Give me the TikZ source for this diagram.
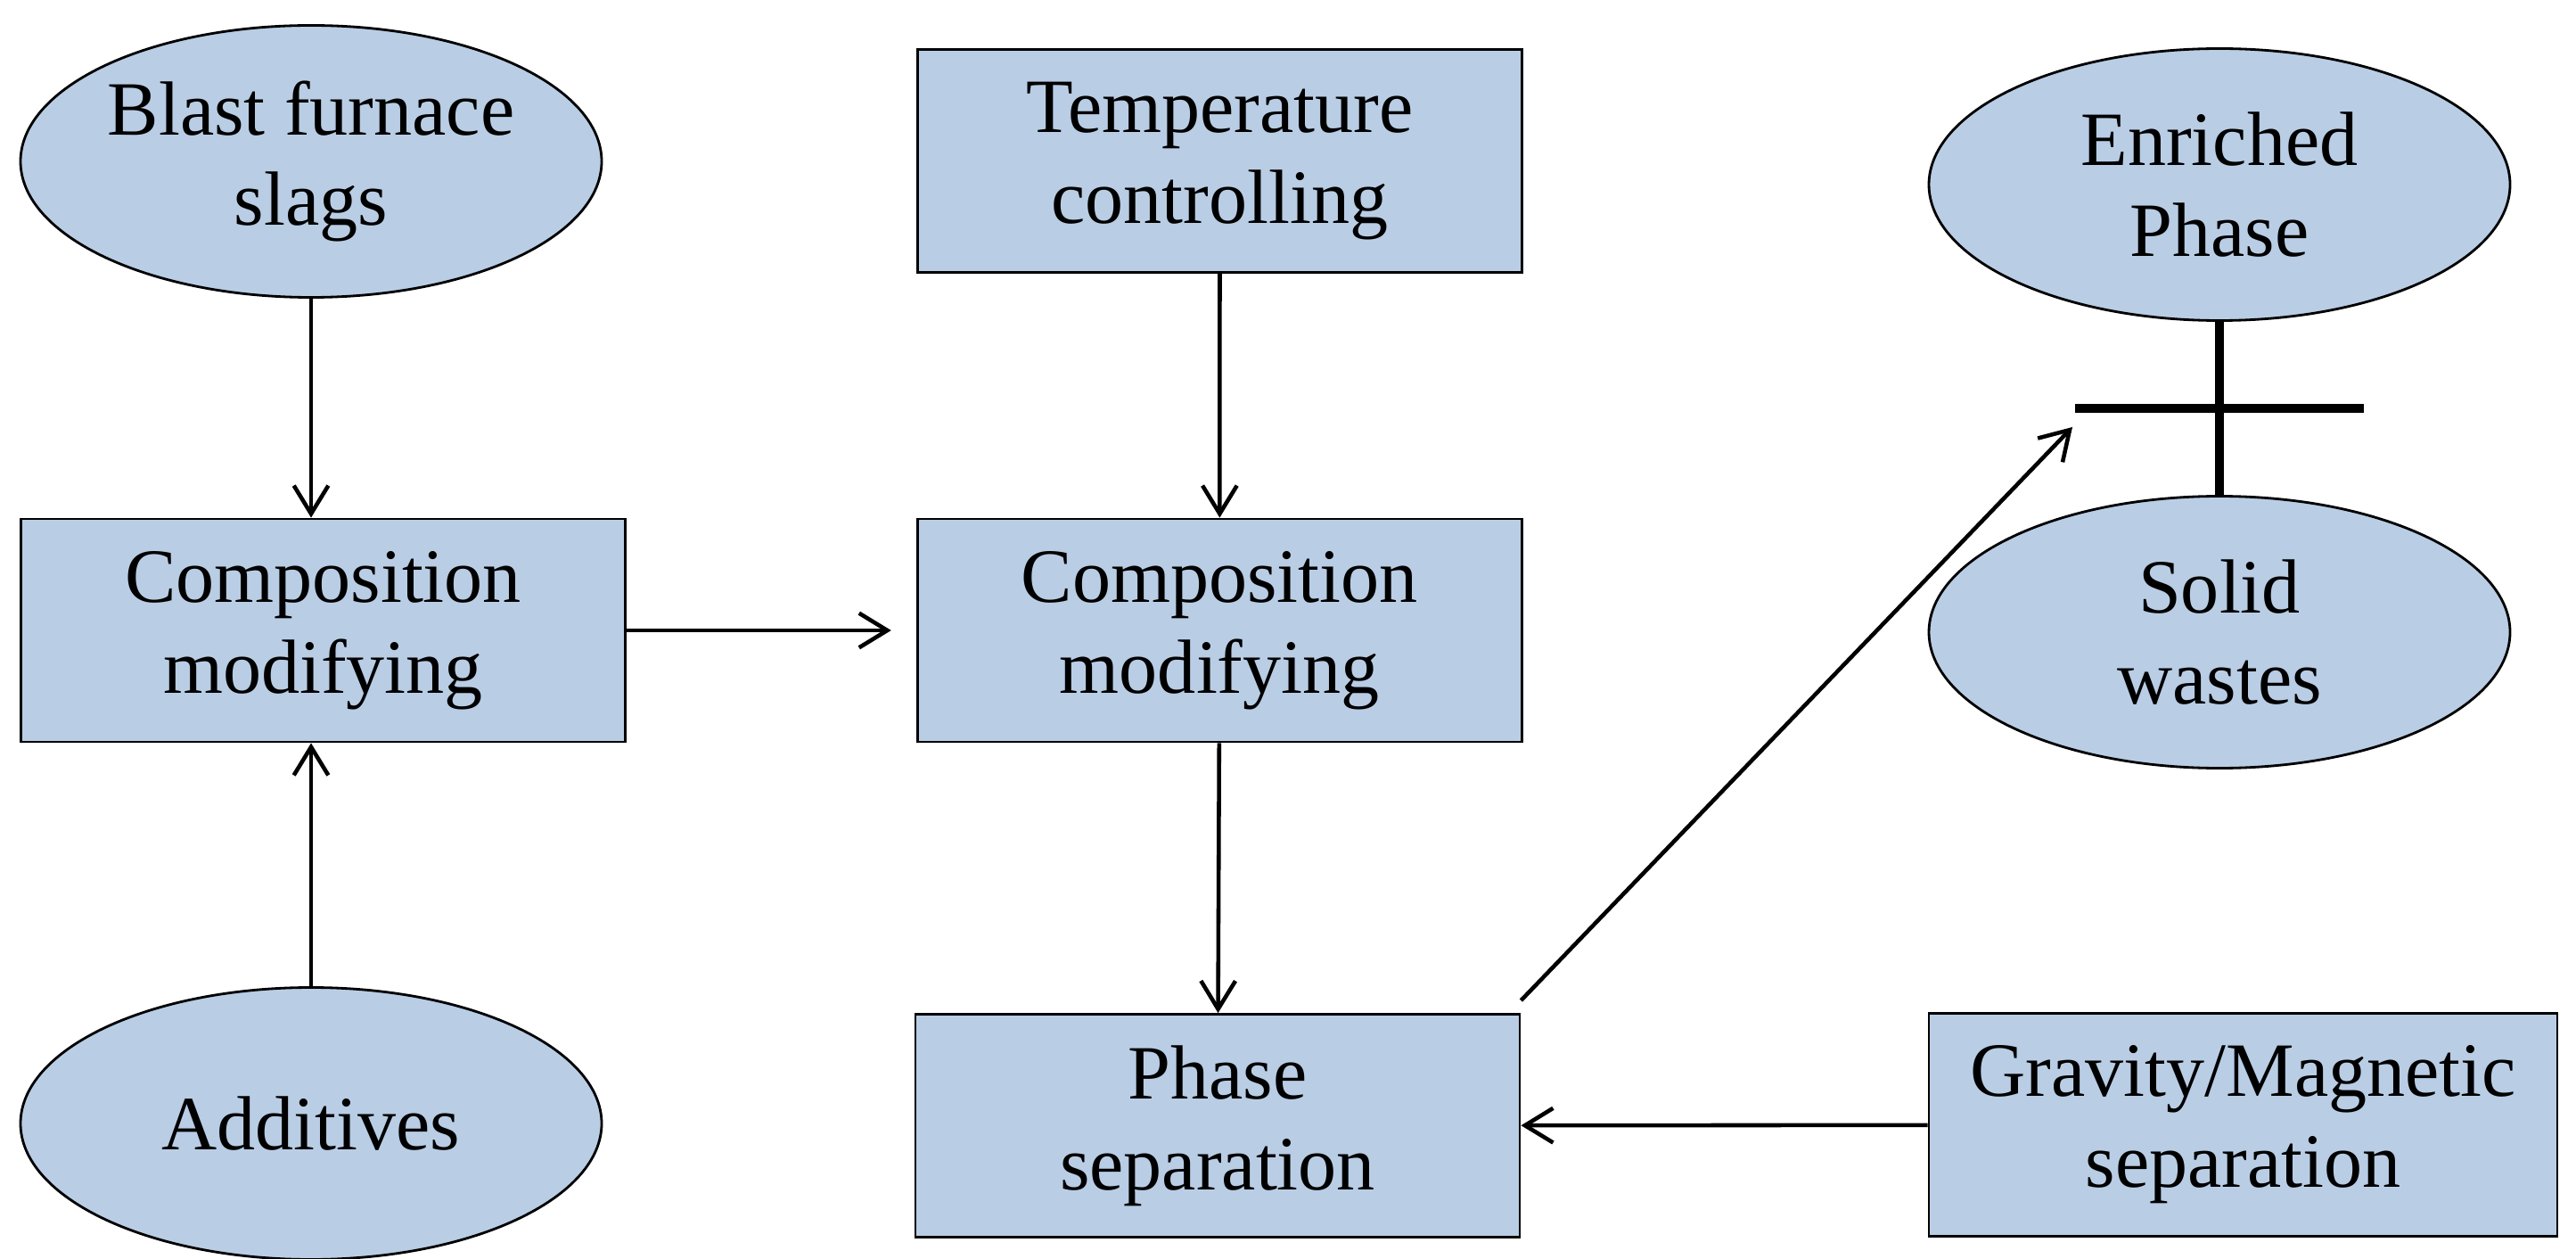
\documentclass[tikz,border=0pt]{standalone}
\usepackage{fontspec}
\setmainfont{Liberation Serif}
\usetikzlibrary{positioning, arrows.meta, shapes.geometric}
\definecolor{azulclaro}{HTML}{B9CDE5}
\tikzset{
	>={Straight Barb[length=9pt, width=11pt]}, % Punta de flecha abierta
	caja/.style={draw, line width=0.8pt, fill=azulclaro, minimum width=6.78cm, minimum height=2.5cm, align=center, font=\fontsize{24.5}{29}\selectfont}, % Procesos
	elipse/.style={ellipse, draw, line width=0.8pt, fill=azulclaro, minimum width=6.52cm, minimum height=3.05cm, align=center, inner sep=0pt, font=\fontsize{24.5}{29}\selectfont}, % Materiales
	flecha/.style={->, line width=1.3pt}, % Arcos
	barra/.style={line width=2.8pt} % Separador
}

\begin{document}
\begin{tikzpicture}
	\useasboundingbox (0,0) rectangle (28.9,-14.12);
	\node[elipse] (blast) at (3.49,-1.81) {Blast furnace\\slags};
	\node[caja] (comp1) at (3.625,-7.07) {Composition\\modifying};
	\node[elipse] (add) at (3.49,-12.6) {Additives};
	\node[caja, right=3.25cm of comp1] (comp2) {Composition\\modifying};
	\node[caja] (temp) at (13.685,-1.805) {Temperature\\controlling};
	\node[caja] (phase) at (13.66,-12.625) {Phase\\separation};
	\node[caja, minimum width=7.05cm] (grav) at (25.165,-12.615) {Gravity/Magnetic\\separation};
	\node[elipse] (enr) at (24.9,-2.07) {Enriched\\Phase};
	\node[elipse] (solid) at (24.9,-7.09) {Solid\\wastes};
	\coordinate (barL) at (23.28,-4.58);
	\coordinate (barR) at (26.52,-4.58);
	\coordinate (tip) at (23.25,-4.79);
	\draw[flecha] (blast.south) -- (blast.south |- comp1.north);
	\draw[flecha] (add.north) -- (add.north |- comp1.south);
	\draw[flecha, shorten >=8pt] (comp1) -- (comp2);
	\draw[flecha] (temp) -- (comp2);
	\draw[flecha] (comp2) -- (phase);
	\draw[flecha] (grav) -- (phase);
	\draw[flecha] ([yshift=4pt]phase.north east) -- (tip);
	\draw[barra] (enr.south) -- (solid.north);
	\draw[barra] (barL) -- (barR);
\end{tikzpicture}
\end{document}
